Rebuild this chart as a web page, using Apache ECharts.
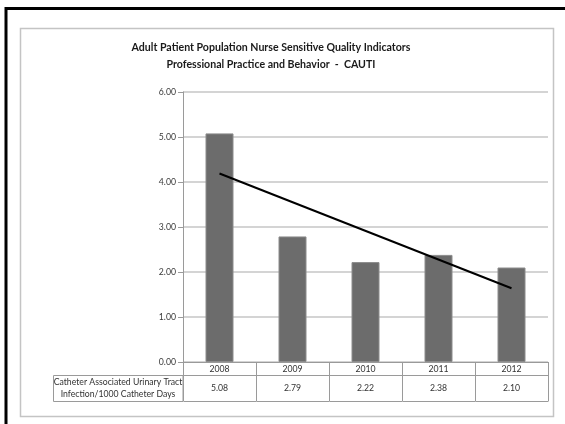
<!DOCTYPE html>
<html>
<head>
<meta charset="utf-8">
<script src="https://cdn.jsdelivr.net/npm/echarts@6/dist/echarts.min.js"></script>
<style>
  html, body { margin: 0; padding: 0; background: #fff; }
  #chart { width: 565px; height: 424px; }
</style>
</head>
<body>
<div id="chart"></div>
<script>
// CAUTI rate per 1000 catheter days, by year
const years = ['2008', '2009', '2010', '2011', '2012'];
const cautiRates = [5.08, 2.79, 2.22, 2.38, 2.10];
// Linear trend line end points (first and last year)
const trendPoints = [[0, 4.19], [4, 1.64]];
const yTicks = [0, 1, 2, 3, 4, 5, 6];
const rowLabel = ['Catheter Associated Urinary Tract', 'Infection/1000 Catheter Days'];
const titleLines = ['Adult Patient Population Nurse Sensitive Quality Indicators',
                    'Professional Practice and Behavior  -  CAUTI'];

const FONT = 'Lato, "Open Sans", sans-serif';
const SMALL = 8.7;
const TABLE_HEADER_H = 13;
const TABLE_H = 39;

const chart = echarts.init(document.getElementById('chart'), null, { renderer: 'canvas' });

chart.setOption({
  animation: false,
  backgroundColor: '#ffffff',
  title: {
    text: titleLines.join('\n'),
    left: 266,
    top: 34,
    textAlign: 'center',
    textStyle: { fontFamily: FONT, fontSize: 10.6, fontWeight: 'bold', color: '#1a1a1a', lineHeight: 17 }
  },
  grid: [
    { left: 183, right: 17, top: 92, bottom: 62, containLabel: false },
    { left: 183, right: 17, top: 362, height: TABLE_H, containLabel: false }
  ],
  xAxis: [
    {
      type: 'category', gridIndex: 0, data: years,
      axisLine: { show: true, lineStyle: { color: '#9a9a9a', width: 1 } },
      axisTick: { show: false }, axisLabel: { show: false }
    },
    {
      type: 'category', gridIndex: 1, data: years, show: false
    }
  ],
  yAxis: [
    {
      type: 'value', gridIndex: 0, min: yTicks[0], max: yTicks[yTicks.length - 1], interval: 1,
      axisLine: { show: true, lineStyle: { color: '#9a9a9a', width: 1 } },
      axisTick: { show: true, length: 5, lineStyle: { color: '#9a9a9a' } },
      axisLabel: { fontFamily: FONT, fontSize: SMALL, color: '#3a3a3a', margin: 7,
                   formatter: v => v.toFixed(2) },
      splitLine: { show: true, lineStyle: { color: '#c6c6c6', width: 1.5 } }
    },
    {
      type: 'value', gridIndex: 1, min: 0, max: TABLE_H, inverse: true, show: false
    }
  ],
  series: [
    {
      type: 'bar', xAxisIndex: 0, yAxisIndex: 0, data: cautiRates,
      barWidth: 28,
      itemStyle: { color: '#6c6c6c', borderColor: '#8c8c8c', borderWidth: 1 }
    },
    {
      type: 'line', xAxisIndex: 0, yAxisIndex: 0, data: trendPoints,
      symbol: 'none', z: 5,
      lineStyle: { color: '#000000', width: 2 }
    },
    {
      // data table under the plot: year header row and value row
      type: 'custom', xAxisIndex: 1, yAxisIndex: 1,
      data: years.map((y, i) => [i, y, cautiRates[i]]),
      renderItem: function (params, api) {
        const i = api.value(0);
        const cx = api.coord([i, 0])[0];
        const w = api.size([1, 0])[0];
        const top = api.coord([i, 0])[1];
        const mid = api.coord([i, TABLE_HEADER_H])[1];
        const bot = api.coord([i, TABLE_H])[1];
        const x0 = Math.round(cx - w / 2) + 0.5;
        const x1 = Math.round(cx + w / 2) + 0.5;
        const stroke = { stroke: '#9a9a9a', lineWidth: 1 };
        const yr = params.dataIndex;
        return {
          type: 'group',
          children: [
            { type: 'line', shape: { x1: x0, y1: top, x2: x0, y2: bot }, style: stroke },
            { type: 'line', shape: { x1: x1, y1: top, x2: x1, y2: bot }, style: stroke },
            { type: 'line', shape: { x1: x0, y1: Math.round(mid) + 0.5, x2: x1, y2: Math.round(mid) + 0.5 }, style: stroke },
            { type: 'line', shape: { x1: x0, y1: Math.round(bot) + 0.5, x2: x1, y2: Math.round(bot) + 0.5 }, style: stroke },
            { type: 'text', style: { text: years[yr], x: cx, y: (top + mid) / 2 + 0.5,
                align: 'center', verticalAlign: 'middle', font: SMALL + 'px ' + FONT, fill: '#333333' } },
            { type: 'text', style: { text: cautiRates[yr].toFixed(2), x: cx, y: (mid + bot) / 2,
                align: 'center', verticalAlign: 'middle', font: SMALL + 'px ' + FONT, fill: '#333333' } }
          ]
        };
      }
    }
  ],
  graphic: [
    // outer black frame
    { type: 'line', shape: { x1: 5, y1: 8.5, x2: 565, y2: 8.5 }, style: { stroke: '#000', lineWidth: 3 } },
    { type: 'line', shape: { x1: 6, y1: 7, x2: 6, y2: 424 }, style: { stroke: '#000', lineWidth: 3 } },
    // chart area border
    { type: 'rect', shape: { x: 20.5, y: 28.5, width: 533, height: 388 }, z: -1,
      style: { fill: '#fff', stroke: '#c4c4c4', lineWidth: 1.5 } },
    // row label cell of the data table
    { type: 'rect', shape: { x: 53.5, y: 375.5, width: 129.5, height: 26 },
      style: { fill: 'none', stroke: '#9a9a9a', lineWidth: 1 } },
    { type: 'text', x: 118, y: 388.5,
      style: { text: rowLabel.join('\n'), align: 'center', verticalAlign: 'middle',
               font: SMALL + 'px ' + FONT, fill: '#333333', lineHeight: 12 } }
  ]
});
</script>
</body>
</html>
